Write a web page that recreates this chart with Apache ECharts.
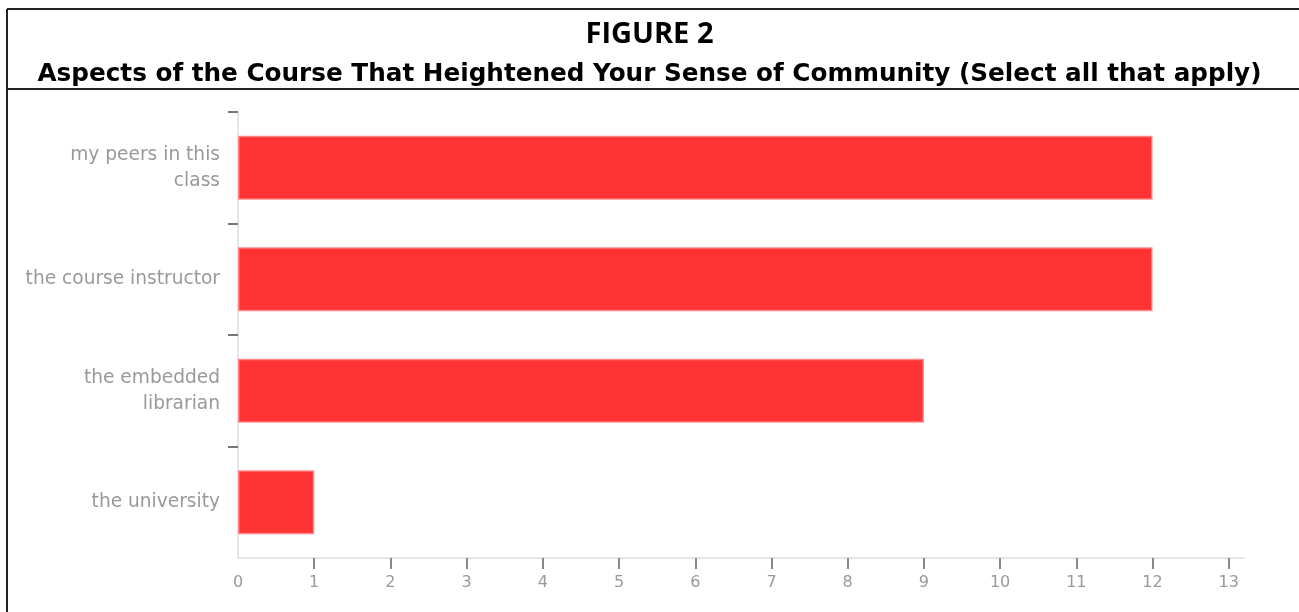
<!DOCTYPE html>
<html>
<head>
<meta charset="utf-8">
<script src="https://cdn.jsdelivr.net/npm/echarts@6/dist/echarts.min.js"></script>
<style>
  html, body { margin: 0; padding: 0; background: #fff; }
  #chart { width: 1299px; height: 612px; }
</style>
</head>
<body>
<div id="chart"></div>
<script>
const categories = ['my peers in this\nclass', 'the course instructor', 'the embedded\nlibrarian', 'the university'];
const counts = [12, 12, 9, 1];
const xLabels = [0, 1, 2, 3, 4, 5, 6, 7, 8, 9, 10, 11, 12, 13];
const xTickMarks = [1, 2, 3, 4, 5, 6, 7, 8, 9, 10, 11, 12, 13];
const yTickMarks = [0, 1, 2, 3]; // top edge of each category band

const chart = echarts.init(document.getElementById('chart'));

chart.setOption({
  animation: false,
  backgroundColor: '#fff',
  title: [
    {
      text: 'FIGURE 2',
      left: 'center',
      top: 15,
      textStyle: { fontFamily: 'Open Sans', fontWeight: 'bold', fontSize: 29, color: '#000' }
    },
    {
      text: 'Aspects of the Course That Heightened Your Sense of Community (Select all that apply)',
      left: 'center',
      top: 57,
      textStyle: { fontFamily: 'DejaVu Sans', fontWeight: 'bold', fontSize: 24.7, color: '#000' }
    }
  ],
  // frame lines round the title block
  graphic: [
    { type: 'line', shape: { x1: 7, y1: 9, x2: 1299, y2: 9 }, style: { stroke: '#222', lineWidth: 2 } },
    { type: 'line', shape: { x1: 7, y1: 9, x2: 7, y2: 612 }, style: { stroke: '#222', lineWidth: 2 } },
    { type: 'line', shape: { x1: 7, y1: 89, x2: 1299, y2: 89 }, style: { stroke: '#222', lineWidth: 2 } }
  ],
  grid: { left: 238, right: 55, top: 112, bottom: 54 },
  xAxis: {
    type: 'value',
    min: 0,
    max: 13.2,
    interval: 1,
    splitLine: { show: false },
    axisLine: { show: true, onZero: false, lineStyle: { color: '#e6e6e6', width: 2 } },
    axisTick: { show: true, length: 11, customValues: xTickMarks, lineStyle: { color: '#888', width: 2 } },
    axisLabel: {
      customValues: xLabels,
      margin: 17,
      color: '#999',
      fontFamily: 'DejaVu Sans',
      fontSize: 16
    }
  },
  yAxis: [
    {
      type: 'category',
      inverse: true,
      data: categories,
      axisLine: { show: true, lineStyle: { color: '#e6e6e6', width: 2 } },
      axisTick: { show: false },
      axisLabel: {
        margin: 18,
        color: '#999',
        fontFamily: 'DejaVu Sans',
        fontSize: 18.6,
        lineHeight: 26
      }
    },
    {
      // only carries the tick marks at the band edges
      type: 'value',
      position: 'left',
      inverse: true,
      min: 0,
      max: 4,
      interval: 1,
      splitLine: { show: false },
      axisLine: { show: false, onZero: false },
      axisLabel: { show: false },
      axisTick: { show: true, length: 10, customValues: yTickMarks, lineStyle: { color: '#777', width: 2 } }
    }
  ],
  series: [
    {
      type: 'bar',
      data: counts,
      barWidth: 64,
      itemStyle: { color: '#ff3333', borderColor: 'rgba(255,130,130,0.9)', borderWidth: 1.5 }
    }
  ]
});
</script>
</body>
</html>
